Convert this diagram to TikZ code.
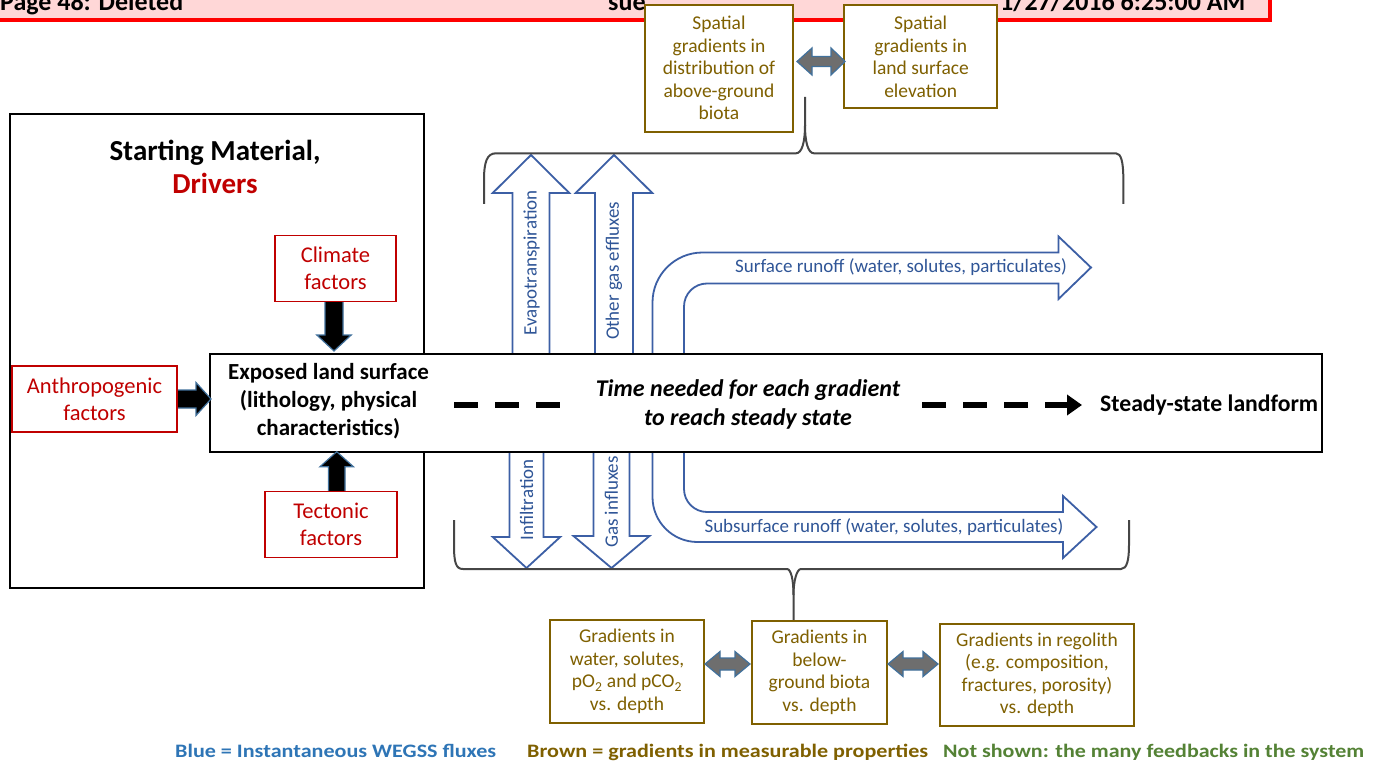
\documentclass[tikz,border=0pt]{standalone}
\usepackage{graphicx}
\usepackage{fontspec}
\setmainfont{Carlito}
\usetikzlibrary{calc,arrows.meta}

\definecolor{gradbrown}{RGB}{127,96,0}
\definecolor{driverred}{RGB}{192,0,0}
\definecolor{fluxtext}{RGB}{47,85,151}
\definecolor{fluxedge}{RGB}{60,95,165}
\definecolor{edgeblue}{RGB}{65,113,156}
\definecolor{linkgray}{RGB}{110,110,110}
\definecolor{bannerpink}{RGB}{255,215,215}
\definecolor{legblue}{RGB}{46,117,182}
\definecolor{leggreen}{RGB}{84,130,53}
\definecolor{bracegray}{RGB}{70,70,70}

% vertical block arrow: style, centre x, tail y, head base y, tip y, shaft half width, head half width
\newcommand\vblock[7]{%
  \draw[#1] ({#2-#6},#3) -- ({#2-#6},#4) -- ({#2-#7},#4) -- (#2,#5) -- ({#2+#7},#4) -- ({#2+#6},#4) -- ({#2+#6},#3) -- cycle;}
% horizontal block arrow: style, centre y, tail x, head base x, tip x, shaft half width, head half width
\newcommand\hblock[7]{%
  \draw[#1] (#3,{#2-#6}) -- (#4,{#2-#6}) -- (#4,{#2-#7}) -- (#5,#2) -- (#4,{#2+#7}) -- (#4,{#2+#6}) -- (#3,{#2+#6}) -- cycle;}
% two-headed block arrow: style, centre y, left tip, left base, right base, right tip, shaft half, head half
\newcommand\dblblock[8]{%
  \draw[#1] (#3,#2) -- (#4,{#2-#8}) -- (#4,{#2-#7}) -- (#5,{#2-#7}) -- (#5,{#2-#8}) -- (#6,#2) -- (#5,{#2+#8}) -- (#5,{#2+#7}) -- (#4,{#2+#7}) -- (#4,{#2+#8}) -- cycle;}

\begin{document}
\begin{tikzpicture}[x=1pt,y=-1pt,
  gradbox/.style={draw=gradbrown, line width=2pt, fill=white, text=gradbrown, align=center, inner sep=0pt, font=\fontsize{19.5}{22.5}\selectfont},
  drivebox/.style={draw=driverred, line width=1.6pt, fill=white, text=driverred, align=center, inner sep=0pt, font=\fontsize{22.5}{26.7}\selectfont},
  fluxarrow/.style={draw=fluxedge, line width=1.8pt, fill=white, line join=miter},
  forcearrow/.style={draw=edgeblue, line width=1.2pt, fill=black},
  linkarrow/.style={draw=edgeblue, line width=1.2pt, fill=linkgray},
  fluxlabel/.style={text=fluxtext, font=\fontsize{19}{22}\selectfont, inner sep=0pt},
  brace/.style={draw=bracegray, line width=2pt},
  mainfont/.style={font=\bfseries\fontsize{23}{28}\selectfont},
  banner/.style={font=\bfseries\fontsize{26}{30}\selectfont, inner sep=0pt},
  legend/.style={font=\bfseries\fontsize{19}{22}\selectfont, inner sep=0pt, anchor=base west},
  dashlink/.style={line width=5.5pt, dash pattern=on 24pt off 17pt}
]
\useasboundingbox (0,0) rectangle (1382,762);
\clip (0,0) rectangle (1382,762);
\fill[white] (0,0) rectangle (1382,762);

% revision banner along the top edge
\draw[draw=red, line width=3.5pt, fill=bannerpink] (-20,-40) rectangle (1270,20);
\node[banner, anchor=base west] (pagelabel) at (0,11) {Page 48: Deleted};
\node[banner, anchor=base west] (author) at (608,11) {sue};
\node[banner, anchor=base west] (stamp) at (1000,11) {1/27/2016 6:25:00 AM};

% starting material and drivers
\node[draw, line width=2pt, minimum width=414pt, minimum height=474pt, inner sep=0pt] (drivers) at (217,351) {};
\node[align=center, font=\bfseries\fontsize{29}{33}\selectfont] (drivtitle) at (215,166.5) {Starting Material,\\\textcolor{driverred}{Drivers}};

% fluxes across the land surface
\vblock{fluxarrow}{531}{365}{193}{155}{18.5}{38.3}
\vblock{fluxarrow}{614}{365}{193}{155}{19}{38.3}
\vblock{fluxarrow}{526.5}{440}{537}{568}{17}{33.7}
\vblock{fluxarrow}{611.5}{440}{536}{568}{18}{38}
\draw[fluxarrow] (652.5,365) -- (652.5,302.5) .. controls (652.5,274.9) and (674.9,252.5) .. (702.5,252.5)
  -- (1058.5,252.5) -- (1058.5,236.5) -- (1091,267.5) -- (1058.5,299) -- (1058.5,283.5)
  -- (707,283.5) .. controls (694.3,283.5) and (684,293.8) .. (684,306.5) -- (684,365) -- cycle;
\draw[fluxarrow] (652.5,440) -- (652.5,497) .. controls (652.5,521.9) and (672.6,542) .. (697.5,542)
  -- (1063,542) -- (1063,558) -- (1096.5,527) -- (1063,496) -- (1063,512)
  -- (707,512) .. controls (694.3,512) and (684,501.7) .. (684,489) -- (684,440) -- cycle;
\node[fluxlabel, rotate=90] (evap) at (531.5,263) {Evapotranspiration};
\node[fluxlabel, rotate=90] (effl) at (614,271) {Other gas effluxes};
\node[fluxlabel, rotate=90] (infil) at (526.5,500) {Infiltration};
\node[fluxlabel, rotate=90] (influx) at (611.5,502) {Gas influxes};
\node[fluxlabel] (surf) at (901,267) {Surface runoff (water, solutes, particulates)};
\node[fluxlabel] (subsurf) at (884,527) {Subsurface runoff (water, solutes, particulates)};

% exposed land surface band
\node[draw, line width=2pt, fill=white, minimum width=1112pt, minimum height=98pt, inner sep=0pt] (land) at (766,402.5) {};
\node[mainfont, align=center] (exposed) at (328.5,401) {Exposed land surface\\(lithology, physical\\characteristics)};
\node[align=center, font=\bfseries\itshape\fontsize{24}{28.5}\selectfont] (timetext) at (748,404.5) {Time needed for each gradient\\to reach steady state};
\node[font=\bfseries\fontsize{23.7}{28}\selectfont, anchor=west, inner sep=0pt] (steady) at (1100,405) {Steady-state landform};
\coordinate (dashA) at (454,405);
\coordinate (dashB) at (560,405);
\coordinate (dashC) at (922,405);
\coordinate (dashD) at (1082,405);
\draw[dashlink] (dashA) -- (dashB);
\draw[dashlink, -{Triangle[length=15pt,width=20pt]}] (dashC) -- (dashD);

% drivers pushing on the land surface
\vblock{forcearrow}{334}{295}{335}{351}{9}{17.2}
\vblock{forcearrow}{336.7}{498}{466.7}{451.7}{8.3}{16.7}
\hblock{forcearrow}{399}{170}{196}{211}{9}{16.5}
\node[drivebox, minimum width=121pt, minimum height=66pt] (climate) at (335.5,268.5) {Climate\\factors};
\node[drivebox, minimum width=165pt, minimum height=66pt] (anthro) at (94.5,399) {Anthropogenic\\factors};
\node[drivebox, minimum width=132pt, minimum height=66pt] (tecton) at (331,524.5) {Tectonic\\factors};

% braces grouping the fluxes
\draw[brace] (484,204) -- (484,180) .. controls (484,162) and (487,153.3) .. (496,153.3) -- (796,153.3)
  .. controls (802,153.3) and (805,142) .. (805,125) -- (805,97);
\draw[brace] (805,125) .. controls (805,142) and (808,153.3) .. (814,153.3) -- (1116,153.3)
  .. controls (1121,153.3) and (1123.3,162) .. (1123.3,178) -- (1123.3,204);
\draw[brace] (454,520) -- (454,545) .. controls (454,563) and (456,569) .. (463,569) -- (787,569)
  .. controls (791,569) and (793.5,580) .. (793.5,595) -- (793.5,621);
\draw[brace] (793.5,595) .. controls (793.5,580) and (797,569) .. (801,569) -- (1121,569)
  .. controls (1127,569) and (1129,560) .. (1129,545) -- (1129,520);

% spatial gradients above ground
\node[gradbox, minimum width=148pt, minimum height=127pt] (abovebio) at (719,68.3) {Spatial\\gradients in\\distribution of\\above-ground\\biota};
\node[gradbox, minimum width=153pt, minimum height=103pt] (elev) at (920.7,56.7) {Spatial\\gradients in\\land surface\\elevation};
\dblblock{linkarrow}{61.5}{797}{812}{831}{845}{5}{13.5}

% gradients with depth
\node[gradbox, minimum width=154pt, minimum height=103pt] (waterg) at (627,671.5) {Gradients in\\water, solutes,\\pO\textsubscript{2} and pCO\textsubscript{2}\\vs. depth};
\node[gradbox, minimum width=135pt, minimum height=103pt] (belowbio) at (819.5,672.5) {Gradients in\\below-\\ground biota\\vs. depth};
\node[gradbox, minimum width=194pt, minimum height=102pt] (regolith) at (1037,675) {Gradients in regolith\\(e.g. composition,\\fractures, porosity)\\vs. depth};
\dblblock{linkarrow}{664}{705}{720}{735}{750}{6}{12.5}
\dblblock{linkarrow}{664}{888}{903}{923}{938}{6}{12.5}

% colour key
\node[legend, text=legblue] (legflux) at (175,757) {\resizebox{321pt}{\height}{Blue = Instantaneous WEGSS fluxes}};
\node[legend, text=gradbrown] (leggrad) at (527,757) {\resizebox{401pt}{\height}{Brown = gradients in measurable properties}};
\node[legend, text=leggreen] (legfb) at (943,757) {\resizebox{421pt}{\height}{Not shown: the many feedbacks in the system}};
\end{tikzpicture}
\end{document}
